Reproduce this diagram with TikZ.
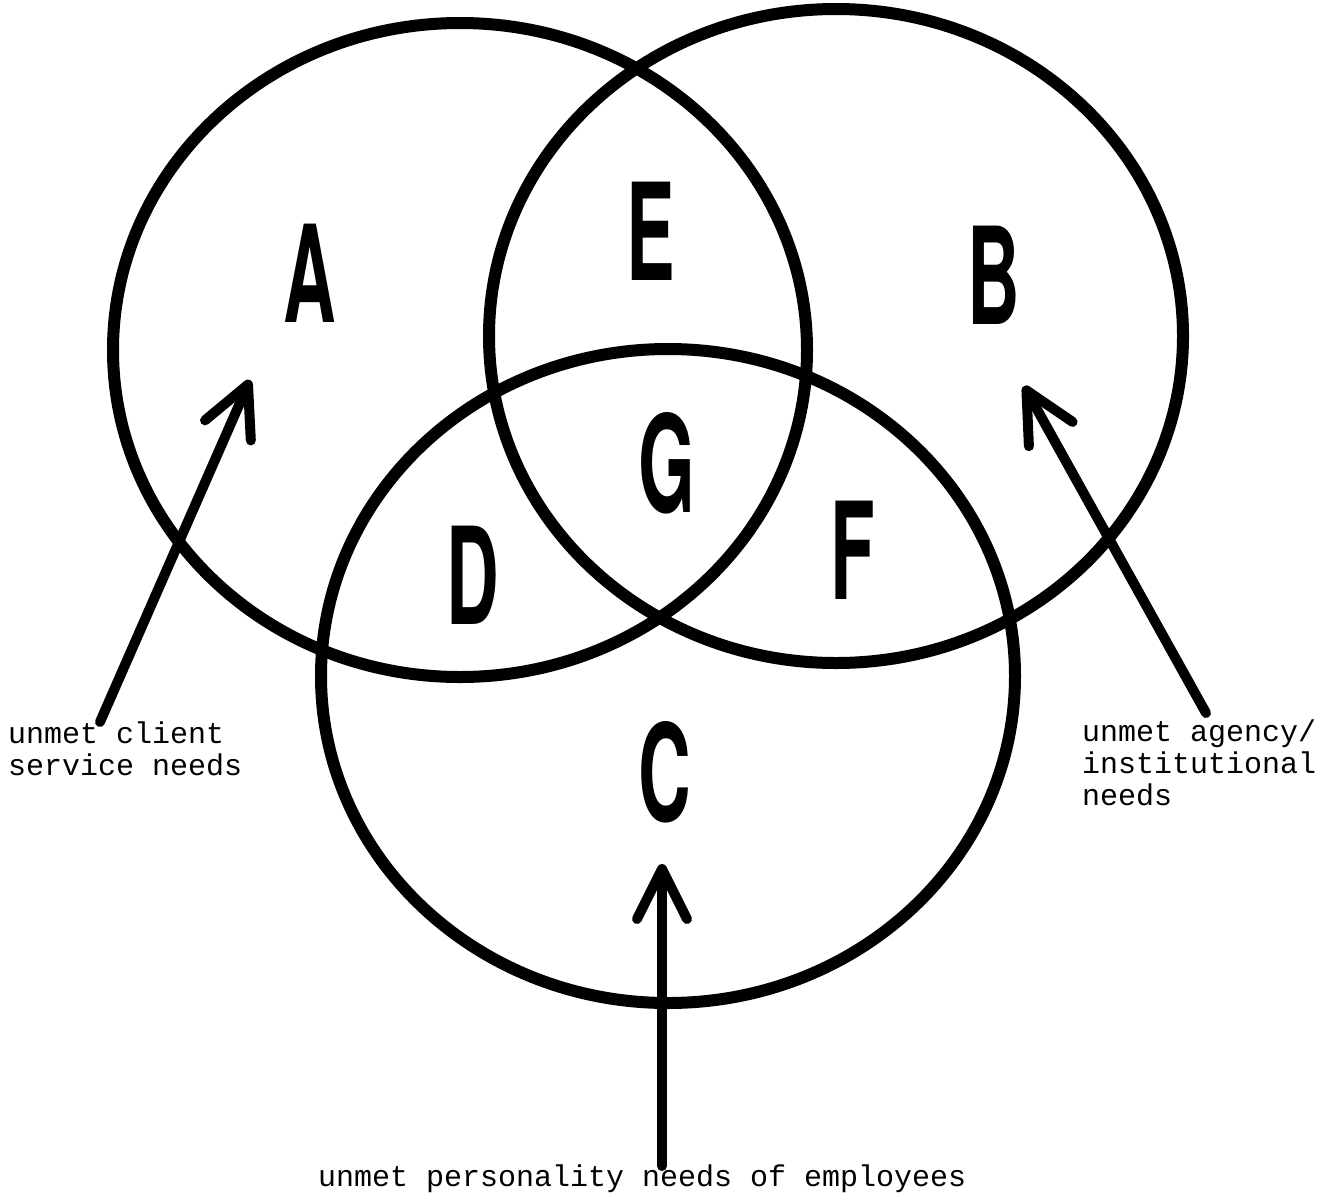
\documentclass[tikz,border=0pt]{standalone}
\usepackage{fontspec}
\usepackage{tikz}
\usetikzlibrary{arrows.meta,calc}
\newfontfamily\vennfont{TeX Gyre Heros}
\newfontfamily\typefont{Liberation Mono}

\tikzset{
  ring/.style={line width=12pt},
  region/.style={font=\vennfont\fontsize{135}{135}\selectfont\bfseries, inner sep=0pt, xscale=0.54},
  need/.style={font=\typefont\fontsize{30}{32}\selectfont, inner sep=0pt, align=left},
  pointer/.style={line width=10pt, line cap=round,
    -{Straight Barb[length=50pt, width=50pt, line cap=round, line join=round]}}
}

\begin{document}
\begin{tikzpicture}[x=1pt, y=-1pt]
\useasboundingbox (0,0) rectangle (1333,1203);

% =================== the three circles ===================
\foreach \n/\x/\y in {A/460/350, B/836/336, C/668/676}{
  \coordinate (O\n) at (\x,\y);
  \draw[ring] (O\n) ellipse [x radius=347, y radius=327];
}

% =================== region letters ===================
\foreach \r/\x/\y in {A/310/273, E/651/231, B/994/275, G/667/463, D/473/575, F/853/550, C/665/772}{
  \node[region] (r\r) at (\x,\y) {\r};
}

% =================== labels ===================
\node[need, anchor=north west] (lA) at (8,722) {unmet client\\service needs};
\node[need, anchor=north west] (lB) at (1082,720) {unmet agency/\\institutional\\needs};
\node[need, anchor=north west] (lC) at (318,1165) {unmet personality needs of employees};

% arrows from the labels into the circles
\coordinate (tA) at (100,722);
\coordinate (hA) at (250,380);
\coordinate (tB) at (1206,713);
\coordinate (hB) at (1024,386);
\coordinate (tC) at (662,1166);
\coordinate (hC) at (662,864);
\draw[pointer] (tA) -- (hA);
\draw[pointer] (tB) -- (hB);
\draw[pointer] (tC) -- (hC);

\end{tikzpicture}
\end{document}
